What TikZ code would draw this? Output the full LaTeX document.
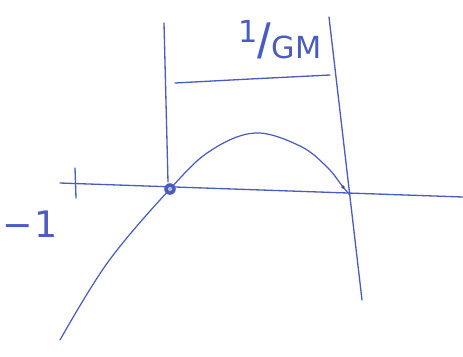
\documentclass[tikz,border=0pt]{standalone}
\usepackage{fontspec}
\setmainfont{DejaVu Sans}
\newfontfamily\thinfont{Liberation Sans}
\definecolor{pen}{HTML}{4A5CC0}
\begin{document}
\begin{tikzpicture}[x=0.02cm,y=-0.02cm,
  penline/.style={draw=pen,line width=0.75pt,line cap=round},
  lbl/.style={text=pen,inner sep=0pt}]
\useasboundingbox (0,0) rectangle (463,356);
% axis
\draw[penline] (60,183) -- (463,197);
% tick
\draw[penline] (75,168) -- (76,198);
% -1 label
\node[lbl,font=\huge] (m1) at (30,224) {\char"2212\hspace{1pt}1};
% vertical lines
\draw[penline] (164,23) -- (168,182);
\draw[penline] (329,17) -- (362,300);
% bracket line
\draw[penline] (175,83) -- (250,79) -- (330,75);
% label
\node[lbl] (gm) at (280,40) {\raisebox{9pt}{\LARGE 1}{\thinfont\fontsize{28}{28}\selectfont /}{\LARGE GM}};
% curve
\draw[penline,line width=0.7pt] plot[smooth,tension=0.6] coordinates {(60,340) (108,262) (170,189) (210,151) (255,133) (300,146) (327,167) (343,187) (350,195)};
% dot
\node[circle,fill=pen,inner sep=0pt,minimum size=6.6pt] (dot) at (170,189) {};
\fill[pen!40] (dot.center) circle (1.2pt);
\fill[pen!80!black] (343,187) circle (1pt);
\end{tikzpicture}
\end{document}
